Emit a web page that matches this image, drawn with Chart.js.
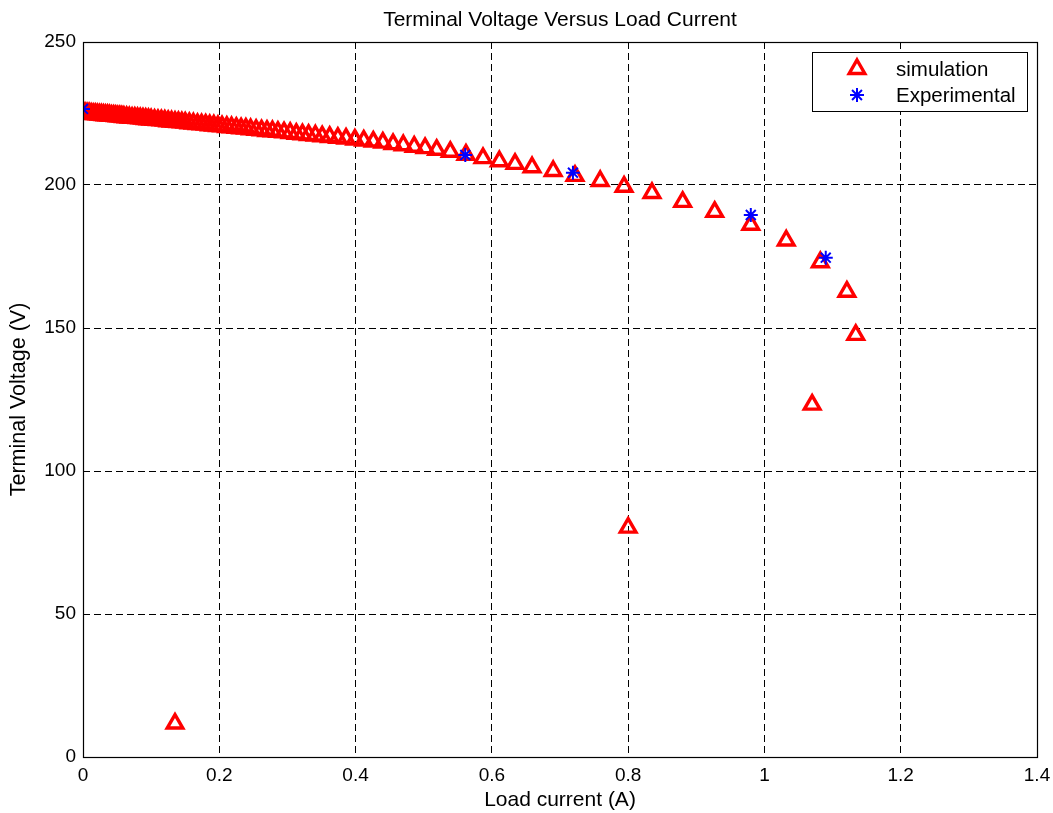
<!DOCTYPE html>
<html><head><meta charset="utf-8">
<script src="https://cdn.jsdelivr.net/npm/chart.js@4.4.1/dist/chart.umd.min.js"></script>
<style>html,body{margin:0;padding:0;background:#fff;} #wrap{width:1053px;height:813px;position:relative;}</style>
</head><body><div id="wrap"><canvas id="c" width="1053" height="813"></canvas></div>
<script>
const chartTitle = 'Terminal Voltage Versus Load Current';
const xTitle = 'Load current (A)';
const yTitle = 'Terminal Voltage (V)';
const seriesNames = ['simulation', 'Experimental'];

const simX = [0.000,0.003,0.006,0.009,0.012,0.015,0.018,0.021,0.024,0.027,0.030,0.033,0.036,0.039,0.042,0.045,0.048,0.051,0.054,0.057,
  0.060,0.064,0.068,0.072,0.076,0.080,0.084,0.088,0.092,0.096,0.100,0.105,0.110,0.115,0.120,0.125,0.130,0.135,0.140,0.145,
  0.150,0.156,0.162,0.168,0.174,0.180,0.186,0.192,0.198,0.204,0.211,0.218,0.225,0.232,0.239,0.246,0.254,0.262,0.270,0.278,
  0.286,0.295,0.304,0.313,0.322,0.331,0.341,0.351,0.362,0.374,0.386,0.399,0.412,0.426,0.440,0.455,0.470,0.486,0.502,0.519,
  0.539,0.562,0.587,0.611,0.634,0.659,0.690,0.722,0.759,0.794,0.835,0.880,0.927,0.980,1.032,1.082,1.121,1.134,1.070,0.800,0.135];
const simY = [225.2,225.1,225.0,225.0,224.9,224.8,224.8,224.7,224.6,224.6,224.5,224.4,224.4,224.3,224.2,224.2,224.1,224.0,224.0,223.9,
  223.8,223.7,223.6,223.5,223.5,223.4,223.3,223.2,223.1,223.0,222.9,222.8,222.7,222.6,222.5,222.3,222.2,222.1,222.0,221.9,
  221.8,221.6,221.5,221.3,221.2,221.1,220.9,220.8,220.6,220.5,220.3,220.2,220.0,219.8,219.7,219.5,219.3,219.1,218.9,218.8,
  218.6,218.4,218.2,217.9,217.7,217.5,217.3,217.0,216.8,216.5,216.2,215.9,215.5,215.2,214.8,214.3,213.9,213.4,212.9,212.3,
  211.6,210.6,209.4,208.3,207.4,206.2,204.9,203.2,201.4,199.4,197.2,194.1,190.6,186.1,180.6,173.0,162.7,147.6,123.2,80.2,11.7];
const expX = [0.000, 0.561, 0.719, 0.980, 1.090];
const expY = [226.6, 210.5, 204.3, 189.5, 174.6];

const xTicks = [0, 0.2, 0.4, 0.6, 0.8, 1, 1.2, 1.4];
const xTickLabels = ['0', '0.2', '0.4', '0.6', '0.8', '1', '1.2', '1.4'];
const yTicks = [0, 50, 100, 150, 200, 250];
const yTickLabels = ['0', '50', '100', '150', '200', '250'];

const FONT = "'Liberation Sans', Arial, sans-serif";

const simPts = simX.map((x, i) => ({x: x, y: simY[i]}));
const expPts = expX.map((x, i) => ({x: x, y: expY[i]}));

const simStyle = {pointStyle: 'triangle', radius: 9, borderWidth: 3.4, color: '#ff0000'};
const expStyle = {pointStyle: 'star', radius: 7, borderWidth: 2, color: '#0000ff'};

const decorPlugin = {
  id: 'decor',
  afterDraw(chart) {
    const ctx = chart.ctx;
    const a = chart.chartArea;
    ctx.save();
    ctx.strokeStyle = '#000';
    ctx.lineWidth = 1.2;
    ctx.setLineDash([]);
    ctx.strokeRect(a.left + 0.5, a.top + 0.5, a.right - a.left, a.bottom - a.top);
    ctx.fillStyle = '#000';
    ctx.textAlign = 'center';
    ctx.textBaseline = 'middle';
    ctx.font = '21px ' + FONT;
    ctx.fillText(chartTitle, (a.left + a.right) / 2, 20);
    ctx.fillText(xTitle, (a.left + a.right) / 2, 800);
    ctx.save();
    ctx.translate(19, (a.top + a.bottom) / 2);
    ctx.rotate(-Math.PI / 2);
    ctx.font = '21.5px ' + FONT;
    ctx.fillText(yTitle, 0, 0);
    ctx.restore();
    const lx = 812, ly = 52, lw = 215, lh = 59;
    ctx.fillStyle = '#fff';
    ctx.fillRect(lx, ly, lw, lh);
    ctx.strokeStyle = '#000';
    ctx.lineWidth = 1;
    ctx.strokeRect(lx + 0.5, ly + 0.5, lw, lh);
    const styles = [simStyle, expStyle];
    const rows = [69, 95];
    styles.forEach((s, i) => {
      ctx.strokeStyle = s.color;
      ctx.fillStyle = 'rgba(0,0,0,0)';
      ctx.lineWidth = s.borderWidth;
      Chart.helpers.drawPoint(ctx, {pointStyle: s.pointStyle, radius: s.radius, borderWidth: s.borderWidth, rotation: 0}, 857, rows[i]);
      ctx.fillStyle = '#000';
      ctx.textAlign = 'left';
      ctx.textBaseline = 'middle';
      ctx.font = '20.5px ' + FONT;
      ctx.fillText(seriesNames[i], 896, rows[i] + 1);
    });
    ctx.restore();
  }
};

new Chart(document.getElementById('c'), {
  type: 'scatter',
  data: {
    datasets: [
      {label: seriesNames[0], data: simPts, pointStyle: simStyle.pointStyle, pointRadius: simStyle.radius,
        pointBorderWidth: simStyle.borderWidth, borderColor: simStyle.color, backgroundColor: 'rgba(0,0,0,0)', order: 1},
      {label: seriesNames[1], data: expPts, pointStyle: expStyle.pointStyle, pointRadius: expStyle.radius,
        pointBorderWidth: expStyle.borderWidth, borderColor: expStyle.color, backgroundColor: 'rgba(0,0,0,0)', order: 0}
    ]
  },
  options: {
    responsive: false,
    animation: false,
    events: [],
    layout: {padding: {top: 42, right: 16, left: 0, bottom: 0}},
    plugins: {legend: {display: false}, title: {display: false}, tooltip: {enabled: false}},
    scales: {
      x: {
        type: 'linear', min: 0, max: 1.4,
        afterBuildTicks: s => { s.ticks = xTicks.map(v => ({value: v})); },
        afterFit: s => { s.height = 56; s.paddingRight = 0; s.paddingLeft = 0; },
        grid: {color: '#000', lineWidth: 1, drawTicks: false},
        border: {display: false, dash: [7, 4]},
        ticks: {padding: 7, color: '#000', font: {family: FONT, size: 19},
          callback: (v) => { const i = xTicks.findIndex(t => Math.abs(t - v) < 1e-9); return i >= 0 ? xTickLabels[i] : ''; },
          maxRotation: 0, autoSkip: false}
      },
      y: {
        type: 'linear', min: 0, max: 250,
        afterBuildTicks: s => { s.ticks = yTicks.map(v => ({value: v})); },
        afterFit: s => { s.width = 83; s.paddingTop = 0; s.paddingBottom = 0; },
        grid: {color: '#000', lineWidth: 1, drawTicks: false},
        border: {display: false, dash: [7, 4]},
        ticks: {padding: 7, color: '#000', font: {family: FONT, size: 19},
          callback: (v) => { const i = yTicks.indexOf(v); return i >= 0 ? yTickLabels[i] : ''; }, autoSkip: false}
      }
    }
  },
  plugins: [decorPlugin]
});
</script>
</body></html>
